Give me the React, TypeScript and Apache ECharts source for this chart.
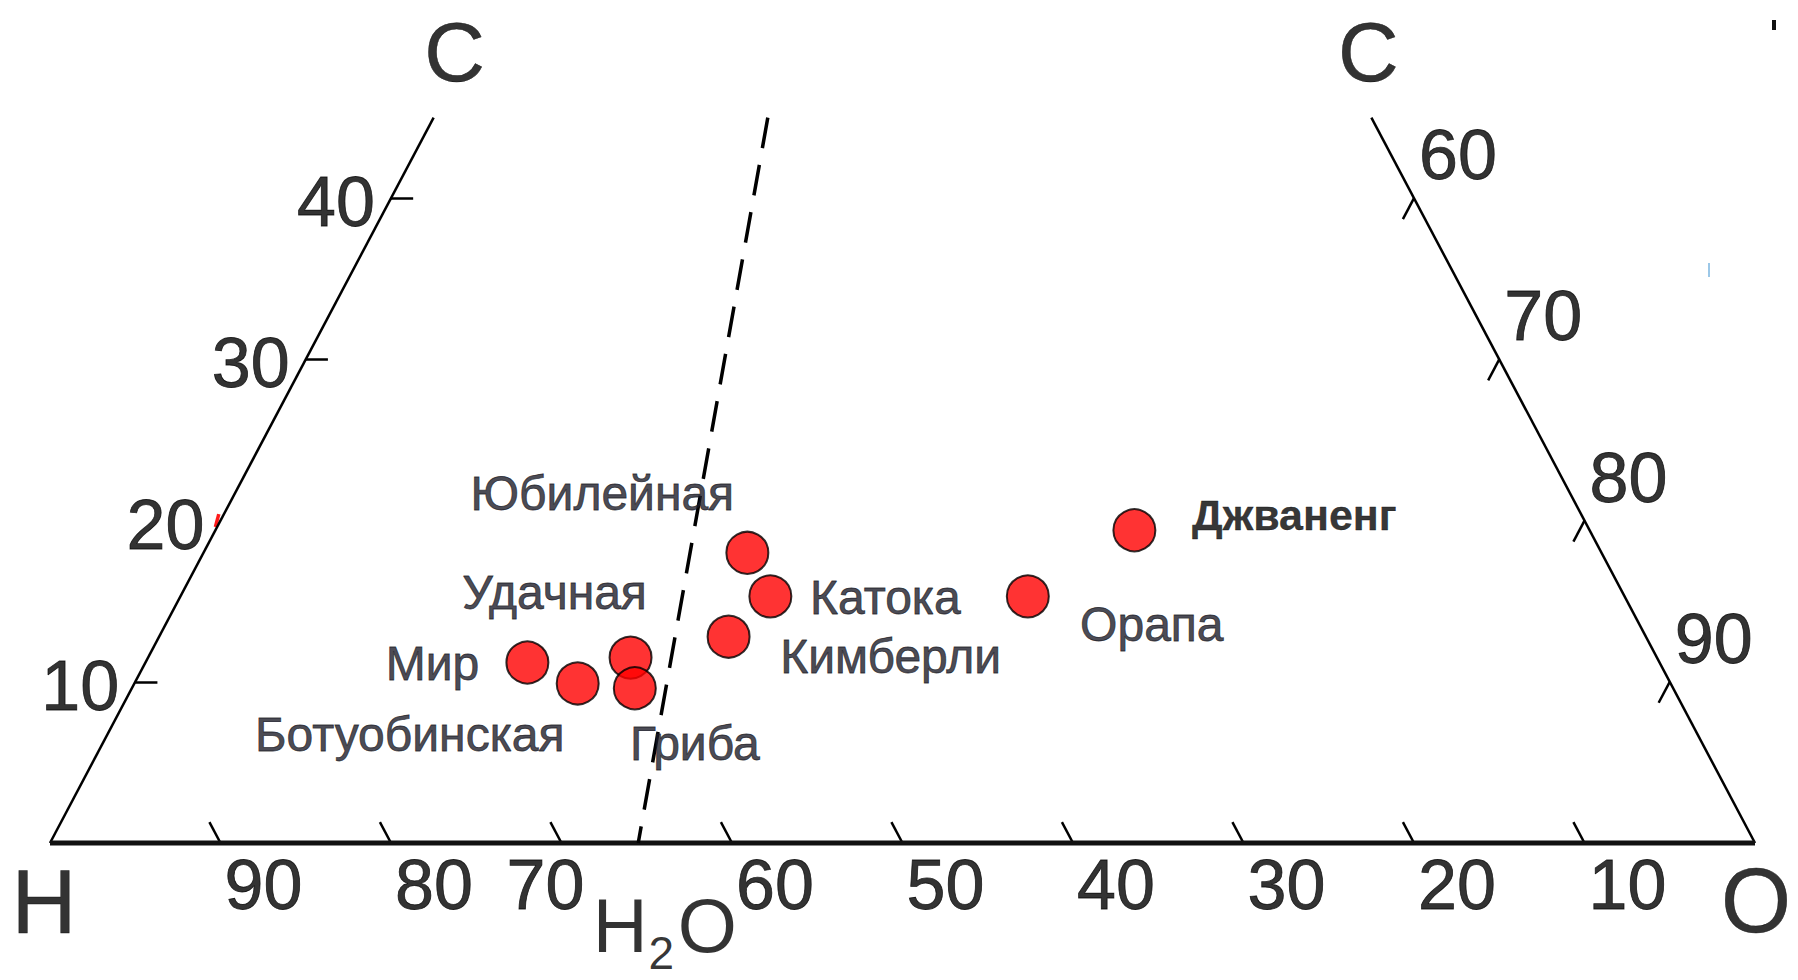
import React, { useEffect, useRef } from "react";
import * as echarts from "echarts";

// ---- Data (ternary compositions, %) ----
const pipeNames = ["Мир", "Ботуобинская", "Удачная", "Гриба", "Юбилейная", "Катока", "Кимберли", "Орапа", "Джваненг"];
const hydrogen = [66.4, 64.1, 60.2, 60.9, 50.1, 50.1, 53.8, 35.0, 26.7];
const oxygen = [22.4, 26.0, 28.3, 29.5, 31.9, 34.6, 33.4, 49.7, 53.9];
const carbon = [11.2, 9.9, 11.5, 9.6, 18.0, 15.3, 12.8, 15.3, 19.4];

// H2O dashed line (top end first, bottom end on the H–O side)
const h2oHydrogen = [35.4, 65.5];
const h2oOxygen = [19.6, 34.5];
const h2oCarbon = [45, 0];

// axis ticks
const baseTicksH = [90, 80, 70, 60, 50, 40, 30, 20, 10];
const leftTicksC = [10, 20, 30, 40];
const rightTicksO = [90, 80, 70, 60];
const carbonMax = 45;

// ---- styling / layout (not data) ----
const FONT = "'Liberation Sans', Arial, Helvetica, sans-serif";
const pointLabelOffsets: Record<string, [number, number]> = {
  "Мир": [-95, 1],
  "Ботуобинская": [-168, 51],
  "Удачная": [-76, -65],
  "Гриба": [60, 55],
  "Юбилейная": [-145, -59],
  "Катока": [115, 1],
  "Кимберли": [162, 20],
  "Орапа": [124, 28],
  "Джваненг": [160, -15],
};

// ternary (O, C) -> cartesian (x along H–O side, y = C)
const toXY = (o: number, c: number): [number, number] => [o + c / 2, c];

export default function App() {
  const ref = useRef<HTMLDivElement>(null);

  useEffect(() => {
    if (!ref.current) return;
    const chart = echarts.init(ref.current, undefined, { renderer: "svg" });

    const tickLen = 1.3;
    const tickSegs: any[] = [];
    baseTicksH.forEach((h) => {
      const o = 100 - h;
      tickSegs.push({ coords: [toXY(o, 0), toXY(o - tickLen, tickLen)] });
    });
    leftTicksC.forEach((c) => {
      if (c === 20) {
        tickSegs.push({
          coords: [
            [c / 2 - 0.3, c - 0.4],
            [c / 2 - 0.1, c + 0.4],
          ],
          lineStyle: { color: "#ff1a1a", width: 3.5 },
        });
      } else {
        tickSegs.push({ coords: [toXY(0, c), toXY(tickLen, c)] });
      }
    });
    rightTicksO.forEach((o) => {
      const c = 100 - o;
      tickSegs.push({ coords: [toXY(o, c), toXY(o, c - tickLen)] });
    });

    const tickLabelStyle = {
      show: true,
      position: "inside",
      formatter: "{b}",
      fontFamily: FONT,
      fontSize: 70,
      color: "#000",
      textBorderColor: "#000",
      textBorderWidth: 0.8,
      align: "center",
      verticalAlign: "middle",
    };

    const baseLabels = baseTicksH.map((h) => ({
      name: String(h),
      value: toXY(100 - h, 0),
      label: { offset: h === 70 ? [-16, 42] : [43, 42] },
    }));
    const leftLabels = leftTicksC.map((c) => ({
      name: String(c),
      value: toXY(0, c),
      label: { offset: [-55, 4] },
    }));
    const rightLabels = rightTicksO.map((o) => ({
      name: String(o),
      value: toXY(o, 100 - o),
      label: { offset: [44, -43] },
    }));

    const cornerLabels = [
      { name: "H", value: toXY(0, 0), label: { offset: [-6, 59], fontSize: 90 } },
      { name: "O", value: toXY(100, 0), label: { offset: [1, 58], fontSize: 90 } },
      { name: "C", value: toXY(0, carbonMax), label: { offset: [21, -66], fontSize: 84 } },
      { name: "C", value: toXY(100 - carbonMax, carbonMax), label: { offset: [-3, -66], fontSize: 84 } },
    ];

    const h2oBottom = toXY(h2oOxygen[1], h2oCarbon[1]);
    const h2oLabels = [
      { name: "H", value: h2oBottom, label: { offset: [-18, 82], fontSize: 76, textBorderWidth: 0 } },
      { name: "2", value: h2oBottom, label: { offset: [23, 110], fontSize: 46, textBorderWidth: 0 } },
      { name: "O", value: h2oBottom, label: { offset: [69, 82], fontSize: 76, textBorderWidth: 0 } },
    ];

    const points = pipeNames.map((n, i) => {
      const isBold = n === "Джваненг";
      return {
        name: n,
        value: toXY(oxygen[i], carbon[i]),
        hydrogen: hydrogen[i],
        label: {
          offset: pointLabelOffsets[n],
          fontSize: isBold ? 43 : 48,
          fontWeight: isBold ? "bold" : "normal",
          color: isBold ? "#000" : "#1a1a26",
          textBorderColor: isBold ? "#000" : "#1a1a26",
          textBorderWidth: isBold ? 0.3 : 0.8,
        },
      };
    });

    const edge = (o1: number, c1: number, o2: number, c2: number) => [toXY(o1, c1), toXY(o2, c2)];

    const option: any = {
      animation: false,
      backgroundColor: "#ffffff",
      grid: { left: 50, right: 43, top: 117.6, bottom: 137, containLabel: false },
      xAxis: { type: "value", min: 0, max: 100, show: false },
      yAxis: { type: "value", min: 0, max: carbonMax, show: false },
      graphic: [
        { type: "rect", shape: { x: 1772, y: 20, width: 4, height: 10 }, style: { fill: "#111" } },
        { type: "rect", shape: { x: 1708, y: 263, width: 2, height: 14 }, style: { fill: "#9cc8e8" } },
      ],
      series: [
        {
          type: "line",
          name: "left",
          data: edge(0, 0, 0, carbonMax),
          symbol: "none",
          clip: false,
          lineStyle: { color: "#000", width: 2.5 },
          silent: true,
        },
        {
          type: "line",
          name: "right",
          data: edge(100, 0, 100 - carbonMax, carbonMax),
          symbol: "none",
          clip: false,
          lineStyle: { color: "#000", width: 2.5 },
          silent: true,
        },
        {
          type: "line",
          name: "base",
          data: edge(0, 0, 100, 0),
          symbol: "none",
          clip: false,
          lineStyle: { color: "#111", width: 5 },
          silent: true,
        },
        {
          type: "line",
          name: "H2O",
          data: h2oHydrogen.map((_, i) => toXY(h2oOxygen[i], h2oCarbon[i])),
          symbol: "none",
          clip: false,
          lineStyle: { color: "#000", width: 3.5, type: [31, 17], cap: "butt" },
          silent: true,
        },
        {
          type: "lines",
          coordinateSystem: "cartesian2d",
          data: tickSegs,
          lineStyle: { color: "#000", width: 2.5, opacity: 1 },
          silent: true,
        },
        {
          type: "scatter",
          name: "tickLabels",
          data: [...baseLabels, ...leftLabels, ...rightLabels],
          symbolSize: 1,
          itemStyle: { color: "rgba(0,0,0,0)" },
          label: tickLabelStyle,
          clip: false,
          silent: true,
        },
        {
          type: "scatter",
          name: "cornerLabels",
          data: [...cornerLabels, ...h2oLabels],
          symbolSize: 1,
          itemStyle: { color: "rgba(0,0,0,0)" },
          label: { ...tickLabelStyle, textBorderWidth: 0.5 },
          clip: false,
          silent: true,
        },
        {
          type: "scatter",
          name: "pipes",
          data: points,
          symbol: "circle",
          symbolSize: 42,
          itemStyle: { color: "#ff0000", borderColor: "#000", borderWidth: 2 },
          label: {
            show: true,
            position: "inside",
            formatter: "{b}",
            fontFamily: FONT,
            align: "center",
            verticalAlign: "middle",
          },
          clip: false,
          z: 5,
        },
      ],
    };

    chart.setOption(option);
    return () => chart.dispose();
  }, []);

  return (
    <div
      ref={ref}
      style={{ position: "fixed", left: 0, top: 0, width: 1798, height: 980, background: "#fff" }}
    />
  );
}
